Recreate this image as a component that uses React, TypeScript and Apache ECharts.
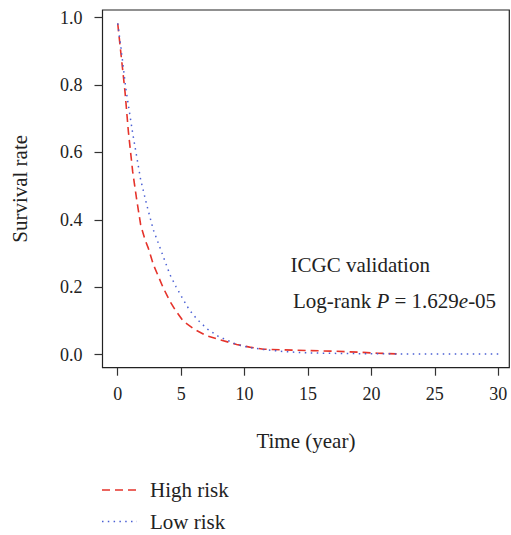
import React, { useEffect, useRef } from "react";
import * as echarts from "echarts";

const xTicks = [0, 5, 10, 15, 20, 25, 30];
const yTicks = [0, 0.2, 0.4, 0.6, 0.8, 1.0];

const highRiskTime = [0, 0.575, 0.84, 1.18, 1.5, 1.81, 2.15, 2.41, 2.81, 3.59, 4.12, 4.52, 5.17, 6.09, 7.01, 8.06, 9.38, 10.4, 11.5, 13, 15, 17, 19, 20.5, 22];
const highRiskSurv = [0.983, 0.78, 0.662, 0.543, 0.459, 0.385, 0.341, 0.316, 0.267, 0.198, 0.158, 0.133, 0.099, 0.074, 0.056, 0.044, 0.03, 0.022, 0.016, 0.014, 0.012, 0.01, 0.007, 0.004, 0.002];

const lowRiskTime = [0, 0.26, 0.63, 1.18, 1.81, 2.29, 2.81, 3.2, 3.59, 4.12, 4.59, 5.09, 5.64, 6.27, 7.06, 7.93, 8.85, 9.38, 10.4, 11.5, 13, 15, 18, 22, 26, 30];
const lowRiskSurv = [0.983, 0.91, 0.792, 0.657, 0.519, 0.444, 0.37, 0.331, 0.291, 0.237, 0.202, 0.168, 0.133, 0.104, 0.076, 0.054, 0.039, 0.03, 0.021, 0.015, 0.009, 0.005, 0.003, 0.002, 0.002, 0.002];

const seriesNames = ["High risk", "Low risk"];
const RED = "#e5332b";
const BLUE = "#4a5fd4";
const FONT = "'Liberation Serif', 'Times New Roman', serif";

export default function App() {
  const ref = useRef<HTMLDivElement>(null);
  useEffect(() => {
    document.body.style.margin = "0";
    document.body.style.overflow = "hidden";
    if (!ref.current) return;
    const chart = echarts.init(ref.current, null, { renderer: "svg" });
    const zip = (a: number[], b: number[]) => a.map((v, i) => [v, b[i]]);
    chart.setOption({
      animation: false,
      textStyle: { fontFamily: FONT, color: "#222" },
      grid: {
        left: 102.5,
        right: 1.7,
        top: 10,
        bottom: 167.3,
        show: true,
        borderColor: "#222",
        borderWidth: 1.2,
        backgroundColor: "transparent",
      },
      xAxis: {
        type: "value",
        min: -1.2,
        max: 30.87,
        name: "Time (year)",
        nameLocation: "middle",
        nameGap: 63,
        nameMoveOverlap: false,
        nameTextStyle: { fontFamily: FONT, fontSize: 21, color: "#222" },
        axisLine: { show: false, onZero: false },
        splitLine: { show: false },
        axisTick: { show: true, length: 8, customValues: xTicks, lineStyle: { color: "#333", width: 1.2 } },
        axisLabel: { customValues: xTicks, margin: 17, fontSize: 18, fontFamily: FONT, color: "#222" },
      },
      yAxis: {
        type: "value",
        min: -0.039,
        max: 1.023,
        name: "Survival rate",
        nameLocation: "middle",
        nameGap: 72,
        nameMoveOverlap: false,
        nameTextStyle: { fontFamily: FONT, fontSize: 21, color: "#222" },
        axisLine: { show: false, onZero: false },
        splitLine: { show: false },
        axisTick: { show: true, length: 8, customValues: yTicks, lineStyle: { color: "#333", width: 1.2 } },
        axisLabel: {
          customValues: yTicks,
          margin: 20,
          fontSize: 18,
          fontFamily: FONT,
          color: "#222",
          formatter: (v: number) => v.toFixed(1),
        },
      },
      graphic: [
        {
          type: "text",
          left: 290.5,
          top: 254.5,
          style: { text: "ICGC validation", font: `21px ${FONT}`, fill: "#222" },
        },
        {
          type: "text",
          left: 293,
          top: 290,
          style: {
            text: "{n|Log-rank }{i|P}{n| = 1.629}{i|e}{n|-05}",
            rich: {
              n: { font: `21px ${FONT}`, fill: "#222" },
              i: { font: `italic 21px ${FONT}`, fill: "#222" },
            },
          },
        },
        {
          type: "line",
          shape: { x1: 102, y1: 490, x2: 137, y2: 490 },
          style: { stroke: RED, lineWidth: 1.6, lineDash: [8, 5] },
        },
        {
          type: "text",
          left: 150,
          top: 479.5,
          style: { text: seriesNames[0], font: `21px ${FONT}`, fill: "#222" },
        },
        {
          type: "line",
          shape: { x1: 102, y1: 521.5, x2: 137, y2: 521.5 },
          style: { stroke: BLUE, lineWidth: 1.5, lineDash: [1.5, 4.3] },
        },
        {
          type: "text",
          left: 150,
          top: 511,
          style: { text: seriesNames[1], font: `21px ${FONT}`, fill: "#222" },
        },
      ],
      series: [
        {
          name: seriesNames[0],
          type: "line",
          data: zip(highRiskTime, highRiskSurv),
          symbol: "none",
          lineStyle: { color: RED, width: 1.6, type: [8, 5] },
          itemStyle: { color: RED },
        },
        {
          name: seriesNames[1],
          type: "line",
          data: zip(lowRiskTime, lowRiskSurv),
          symbol: "none",
          lineStyle: { color: BLUE, width: 1.5, type: [1.5, 4.5] },
          itemStyle: { color: BLUE },
        },
      ],
    });
    return () => chart.dispose();
  }, []);
  return <div ref={ref} style={{ width: 511, height: 535 }} />;
}
